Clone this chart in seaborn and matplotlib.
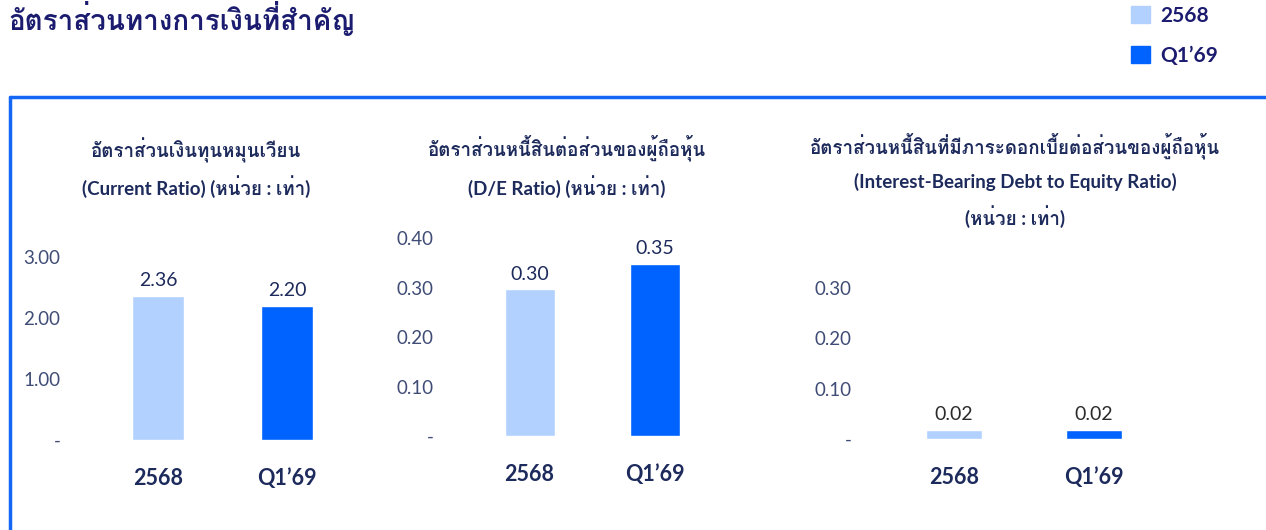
import numpy as np
import pandas as pd
import seaborn as sns
import matplotlib.pyplot as plt
from matplotlib import font_manager, ft2font
from matplotlib.patches import Patch
from matplotlib.lines import Line2D

W, H = 1266, 530

CATEGORIES = ["2568", "Q1’69"]
CURRENT_RATIO = [2.36, 2.20]
DE_RATIO = [0.296, 0.347]
IBD_RATIO = [0.018, 0.018]

MAIN_TITLE = "อัตราส่วนทางการเงินที่สำคัญ"
TITLES = [
    ["อัตราส่วนเงินทุนหมุนเวียน", "(Current Ratio) (หน่วย : เท่า)"],
    ["อัตราส่วนหนี้สินต่อส่วนของผู้ถือหุ้น", "(D/E Ratio) (หน่วย : เท่า)"],
    ["อัตราส่วนหนี้สินที่มีภาระดอกเบี้ยต่อส่วนของผู้ถือหุ้น",
     "(Interest-Bearing Debt to Equity Ratio)", "(หน่วย : เท่า)"],
]

LIGHT = "#b3d1ff"
DARK = "#0062ff"
NAVY = "#1d2a5c"
TICK = "#3f4c76"
FRAME = "#1466f5"

sns.set_theme(style="white")

# look for any installed font that has Thai glyphs
thai = None
for f in font_manager.fontManager.ttflist:
    try:
        if 0x0E2D in ft2font.FT2Font(f.fname).get_charmap():
            thai = f.name
            break
    except Exception:
        continue
plt.rcParams["font.family"] = ["Lato"] + ([thai] if thai else []) + ["DejaVu Sans"]


def px_box(l, t, r, b):
    return [l / W, 1 - b / H, (r - l) / W, (b - t) / H]


fig = plt.figure(figsize=(W / 100, H / 100), dpi=100)

# panel setup: data, axes box in pixels, xlim, ylim, ticks
panels = [
    (CURRENT_RATIO, (66, 440 - 3.2 * 61, 380, 440), (-0.713, 1.721), 3.2, [0, 1, 2, 3], NAVY),
    (DE_RATIO, (439, 436 - 0.42 * 495, 760, 436), (-0.724, 1.844), 0.42, [0, 0.1, 0.2, 0.3, 0.4], NAVY),
    (IBD_RATIO, (857, 439 - 0.33 * 505, 1200, 439), (-0.693, 1.757), 0.33, [0, 0.1, 0.2, 0.3], "#2b2b2b"),
]

for values, box, xlim, ytop, yticks, lab_color in panels:
    ax = fig.add_axes(px_box(*box))
    df = pd.DataFrame({"period": CATEGORIES, "value": values})
    sns.barplot(data=df, x="period", y="value", hue="period", palette=[LIGHT, DARK],
                width=0.4, saturation=1, legend=False, ax=ax)
    for c in ax.containers:
        ax.bar_label(c, fmt="%.2f", padding=5, fontsize=14, color=lab_color)
    ax.set_xlim(*xlim)
    ax.set_ylim(0, ytop)
    ax.set_yticks(yticks)
    ax.set_yticklabels(["-" if v == 0 else f"{v:.2f}" for v in yticks])
    ax.tick_params(axis="y", length=0, pad=4, labelsize=13.5, labelcolor=TICK)
    ax.set_xticks(range(len(CATEGORIES)))
    ax.set_xticklabels(CATEGORIES, fontsize=15.5, fontweight="bold", color=NAVY)
    ax.tick_params(axis="x", length=0, pad=20)
    ax.set_xlabel("")
    ax.set_ylabel("")
    sns.despine(ax=ax, left=True, bottom=True)
    ax.patch.set_alpha(0)

title_pos = [(196, [150, 187]), (567, [148, 187]), (1015, [146, 182, 217])]
for lines, (cx, ys) in zip(TITLES, title_pos):
    for txt, y in zip(lines, ys):
        fig.text(cx / W, 1 - y / H, txt, ha="center", va="center",
                 fontsize=13.5, fontweight="bold", color=NAVY)

fig.text(8 / W, 1 - 1 / H, MAIN_TITLE, ha="left", va="top",
         fontsize=20, fontweight="bold", color="#1b1b6f")

handles = [Patch(color=LIGHT), Patch(color=DARK)]
fig.legend(handles, CATEGORIES, loc="upper left", bbox_to_anchor=(1131 / W, 1 - 6 / H),
           frameon=False, prop={"size": 15, "weight": "bold"}, labelcolor="#1b1b6f",
           handlelength=0.9, handleheight=0.9, handletextpad=0.5, labelspacing=0.95,
           borderpad=0, borderaxespad=0)

# blue frame around the chart area
fig.add_artist(Line2D([10 / W, 1], [1 - 97 / H, 1 - 97 / H], color=FRAME, lw=2.5))
fig.add_artist(Line2D([10 / W, 10 / W], [0, 1 - 97 / H], color=FRAME, lw=2.5))

fig.savefig("out.png", dpi=100)
